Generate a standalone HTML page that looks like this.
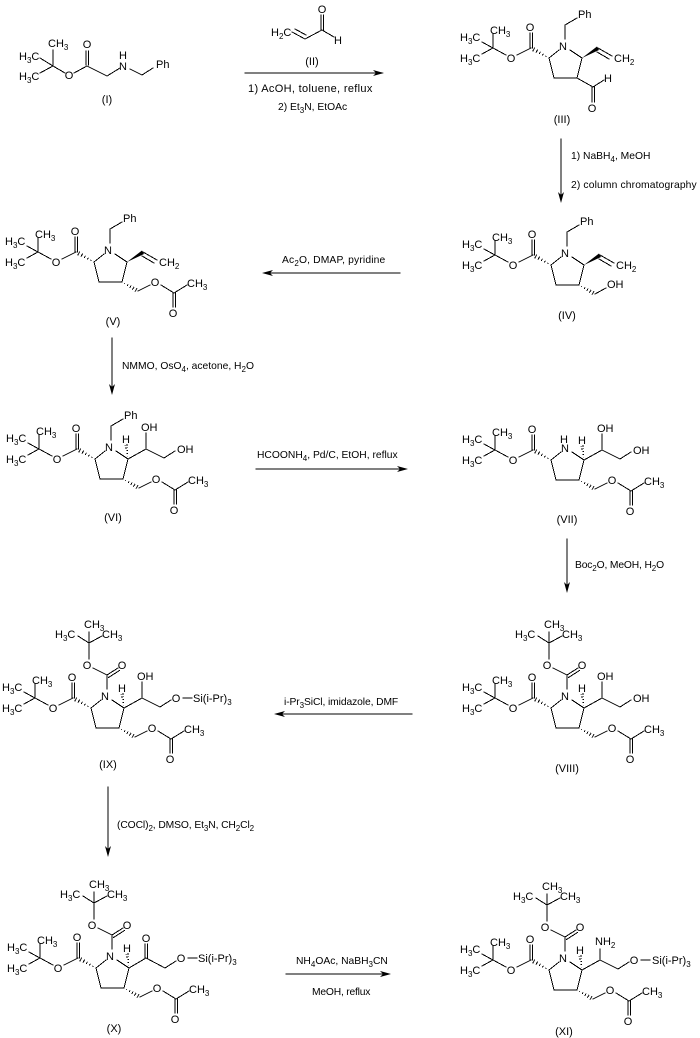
<!DOCTYPE html>
<html><head><meta charset="utf-8"><style>
html,body{margin:0;padding:0;background:#fff}
svg{display:block}
text{font-family:"Liberation Sans",sans-serif;font-size:11px;fill:#000}
text.r{font-size:10.3px}
.m{text-anchor:middle}
.s{font-size:8px}
.l{stroke:#000;stroke-width:1;fill:none;stroke-linecap:square;shape-rendering:crispEdges}
.hs{stroke:#000;stroke-width:1;fill:none;shape-rendering:crispEdges}
</style></head><body>
<svg width="700" height="1038" viewBox="0 0 700 1038" xmlns="http://www.w3.org/2000/svg">
<defs>
<path id="h" class="hs" d="M3.500-.5V.5M7-1V1M10.500-1.400V1.400M14-1.800V1.800M17.500-2.200V2.200"/>
<path id="ah" fill="#000" d="M0 0L-11 3L-8 0L-11-3Z"/>
<g id="core">
<path class="l" d="M27 246L38 252L27 258M38 252V238M38 252L51 259M62 259L76 252M75 252V237M77.500 252V237M94 262L104 254M115 254L127 262L122 282H99L94 262"/>
<use href="#h" transform="translate(94 262) rotate(209)"/>
</g>
<path id="nl" class="l" d="M110 243V229"/>
<path id="bn" class="l" d="M110 229L122 222"/>
<g id="vinyl">
<polygon points="127,262 142,250.500 144,254"/>
<path class="l" d="M143 252L157 260M142 256L154 263"/>
</g>
<g id="oac">
<use href="#h" transform="translate(122 282) rotate(29) scale(.92)"/>
<path class="l" d="M138 291L150 285M161 285L174 293L187 285M173 293V307M175.500 293V307"/>
</g>
<g id="boc">
<path class="l" d="M110 229L121 222M111.500 231.500L122.500 224.500M110 229L96 222M92 213V197M81 190L92 197L105 190M92 197V186"/>
</g>
<use id="hh" href="#h" transform="translate(127 262) rotate(-97) scale(.8)"/>
<path id="ch" class="l" d="M127 262L145 252L163 261L174 254"/>
<path id="ohl" class="l" d="M145 252V236"/>
<path id="si" class="l" d="M186 252H195"/>
</defs>

<!-- I -->
<g>
<path class="l" d="M40 58L53 66L40 73M53 66V50M53 66L65 73M74 73L87 66M86 65V51M88.500 65V51M87 66L107 76L120 68M130 69L142 75L153 68"/>
<text x="19" y="60">H<tspan class="s" dy="3">3</tspan><tspan dy="-3">C</tspan></text>
<text x="19" y="80">H<tspan class="s" dy="3">3</tspan><tspan dy="-3">C</tspan></text>
<text x="48" y="47">CH<tspan class="s" dy="3">3</tspan></text>
<text x="69" y="79" class="m">O</text><text x="87" y="48" class="m">O</text>
<text x="123" y="70" class="m">N</text><text x="123" y="59" class="m">H</text>
<text x="156" y="68">Ph</text>
<text x="107" y="103" class="m">(I)</text>
</g>

<!-- II -->
<g>
<path class="l" d="M292 32L305 39L322 30L334 37M295 29L306 35M321 30V15M323.500 30V15"/>
<text x="271" y="36">H<tspan class="s" dy="3">2</tspan><tspan dy="-3">C</tspan></text>
<text x="322" y="13" class="m">O</text><text x="338" y="44" class="m">H</text>
<text x="312" y="65" class="m">(II)</text>
</g>

<!-- arrow 1 -->
<path class="l" d="M245 73H380"/><use href="#ah" transform="translate(384 73)"/>
<text x="248" y="92" style="letter-spacing:.33px">1) AcOH, toluene, reflux</text>
<text x="278" y="110" class="r">2) Et<tspan class="s" dy="3">3</tspan><tspan dy="-3">N, EtOAc</tspan></text>

<!-- III -->
<g transform="translate(455 -204)">
<use href="#core"/><use href="#nl"/><use href="#bn"/><use href="#vinyl"/>
<path class="l" d="M122 282L138 291L149 284M137 291V306M139.500 291V306"/>
<text x="5" y="245">H<tspan class="s" dy="3">3</tspan><tspan dy="-3">C</tspan></text>
<text x="5" y="266">H<tspan class="s" dy="3">3</tspan><tspan dy="-3">C</tspan></text>
<text x="35" y="238">CH<tspan class="s" dy="3">3</tspan></text>
<text x="75" y="235" class="m">O</text><text x="56" y="266" class="m">O</text><text x="108" y="254" class="m">N</text>
<text x="123" y="222">Ph</text><text x="159" y="266">CH<tspan class="s" dy="3">2</tspan></text>
<text x="153" y="286" class="m">H</text><text x="137" y="316" class="m">O</text>
<text x="107" y="327" class="m">(III)</text>
</g>

<!-- arrow III-IV -->
<path class="l" d="M561 139V199"/><use href="#ah" transform="translate(561 203) rotate(90)"/>
<text x="571" y="159" class="r">1) NaBH<tspan class="s" dy="3">4</tspan><tspan dy="-3">, MeOH</tspan></text>
<text x="571" y="188" class="r" style="letter-spacing:.14px">2) column chromatography</text>

<!-- IV -->
<g transform="translate(457 3)">
<use href="#core"/><use href="#nl"/><use href="#bn"/><use href="#vinyl"/>
<use href="#h" transform="translate(122 282) rotate(29) scale(.92)"/>
<path class="l" d="M138 291L149 285"/>
<text x="5" y="245">H<tspan class="s" dy="3">3</tspan><tspan dy="-3">C</tspan></text>
<text x="5" y="266">H<tspan class="s" dy="3">3</tspan><tspan dy="-3">C</tspan></text>
<text x="35" y="238">CH<tspan class="s" dy="3">3</tspan></text>
<text x="75" y="235" class="m">O</text><text x="56" y="266" class="m">O</text><text x="108" y="254" class="m">N</text>
<text x="123" y="222">Ph</text><text x="159" y="266">CH<tspan class="s" dy="3">2</tspan></text>
<text x="150" y="285">OH</text>
<text x="110" y="316" class="m">(IV)</text>
</g>

<!-- arrow IV-V -->
<path class="l" d="M400 273H266"/><use href="#ah" transform="translate(262 273) rotate(180)"/>
<text x="282" y="263" class="r" style="letter-spacing:.15px">Ac<tspan class="s" dy="3">2</tspan><tspan dy="-3">O, DMAP, pyridine</tspan></text>

<!-- V -->
<g>
<use href="#core"/><use href="#nl"/><use href="#bn"/><use href="#vinyl"/><use href="#oac"/>
<text x="5" y="245">H<tspan class="s" dy="3">3</tspan><tspan dy="-3">C</tspan></text>
<text x="5" y="266">H<tspan class="s" dy="3">3</tspan><tspan dy="-3">C</tspan></text>
<text x="35" y="238">CH<tspan class="s" dy="3">3</tspan></text>
<text x="75" y="235" class="m">O</text><text x="56" y="266" class="m">O</text><text x="108" y="254" class="m">N</text>
<text x="123" y="222">Ph</text><text x="159" y="266">CH<tspan class="s" dy="3">2</tspan></text>
<text x="155" y="286" class="m">O</text><text x="187" y="287">CH<tspan class="s" dy="3">3</tspan></text><text x="173" y="317" class="m">O</text>
<text x="113" y="325" class="m">(V)</text>
</g>

<!-- arrow V-VI -->
<path class="l" d="M112 338V391"/><use href="#ah" transform="translate(112 395) rotate(90)"/>
<text x="122" y="369" class="r">NMMO, OsO<tspan class="s" dy="3">4</tspan><tspan dy="-3">, acetone, H</tspan><tspan class="s" dy="3">2</tspan><tspan dy="-3">O</tspan></text>

<!-- VI -->
<g transform="translate(1 197)">
<use href="#core"/><use href="#nl"/><use href="#bn"/><use href="#hh"/><use href="#ch"/><use href="#ohl"/><use href="#oac"/>
<text x="5" y="245">H<tspan class="s" dy="3">3</tspan><tspan dy="-3">C</tspan></text>
<text x="5" y="266">H<tspan class="s" dy="3">3</tspan><tspan dy="-3">C</tspan></text>
<text x="35" y="238">CH<tspan class="s" dy="3">3</tspan></text>
<text x="75" y="235" class="m">O</text><text x="56" y="266" class="m">O</text><text x="108" y="254" class="m">N</text>
<text x="123" y="222">Ph</text>
<text x="125" y="246" class="m">H</text><text x="140" y="234">OH</text><text x="176" y="256">OH</text>
<text x="155" y="286" class="m">O</text><text x="187" y="287">CH<tspan class="s" dy="3">3</tspan></text><text x="173" y="317" class="m">O</text>
<text x="112" y="324" class="m">(VI)</text>
</g>

<!-- arrow VI-VII -->
<path class="l" d="M256 469H404"/><use href="#ah" transform="translate(408 469)"/>
<text x="257" y="458" class="r">HCOONH<tspan class="s" dy="3">4</tspan><tspan dy="-3">, Pd/C, EtOH, reflux</tspan></text>

<!-- VII -->
<g transform="translate(457 198)">
<use href="#core"/><use href="#hh"/><use href="#ch"/><use href="#ohl"/><use href="#oac"/>
<text x="5" y="245">H<tspan class="s" dy="3">3</tspan><tspan dy="-3">C</tspan></text>
<text x="5" y="266">H<tspan class="s" dy="3">3</tspan><tspan dy="-3">C</tspan></text>
<text x="35" y="238">CH<tspan class="s" dy="3">3</tspan></text>
<text x="75" y="235" class="m">O</text><text x="56" y="266" class="m">O</text><text x="108" y="254" class="m">N</text>
<text x="107" y="245" class="m">H</text>
<text x="125" y="246" class="m">H</text><text x="140" y="234">OH</text><text x="176" y="256">OH</text>
<text x="155" y="286" class="m">O</text><text x="187" y="287">CH<tspan class="s" dy="3">3</tspan></text><text x="173" y="317" class="m">O</text>
<text x="110" y="325" class="m">(VII)</text>
</g>

<!-- arrow VII-VIII -->
<path class="l" d="M567 539V589"/><use href="#ah" transform="translate(567 593) rotate(90)"/>
<text x="575" y="568" class="r" style="letter-spacing:-.15px">Boc<tspan class="s" dy="3">2</tspan><tspan dy="-3">O, MeOH, H</tspan><tspan class="s" dy="3">2</tspan><tspan dy="-3">O</tspan></text>

<!-- VIII -->
<g transform="translate(457 446)">
<use href="#core"/><use href="#nl"/><use href="#boc"/><use href="#hh"/><use href="#ch"/><use href="#ohl"/><use href="#oac"/>
<text x="5" y="245">H<tspan class="s" dy="3">3</tspan><tspan dy="-3">C</tspan></text>
<text x="5" y="266">H<tspan class="s" dy="3">3</tspan><tspan dy="-3">C</tspan></text>
<text x="35" y="238">CH<tspan class="s" dy="3">3</tspan></text>
<text x="75" y="235" class="m">O</text><text x="56" y="266" class="m">O</text><text x="108" y="254" class="m">N</text>
<text x="90" y="223" class="m">O</text><text x="125" y="223" class="m">O</text>
<text x="58" y="192">H<tspan class="s" dy="3">3</tspan><tspan dy="-3">C</tspan></text>
<text x="105" y="192">CH<tspan class="s" dy="3">3</tspan></text>
<text x="87" y="182">CH<tspan class="s" dy="3">3</tspan></text>
<text x="125" y="246" class="m">H</text><text x="140" y="234">OH</text><text x="176" y="256">OH</text>
<text x="155" y="286" class="m">O</text><text x="187" y="287">CH<tspan class="s" dy="3">3</tspan></text><text x="173" y="317" class="m">O</text>
<text x="110" y="326" class="m">(VIII)</text>
</g>

<!-- arrow VIII-IX -->
<path class="l" d="M412 714H278"/><use href="#ah" transform="translate(274 714) rotate(180)"/>
<text x="284" y="705" class="r" style="letter-spacing:-.1px">i-Pr<tspan class="s" dy="3">3</tspan><tspan dy="-3">SiCl, imidazole, DMF</tspan></text>

<!-- IX -->
<g transform="translate(-3 446)">
<use href="#core"/><use href="#nl"/><use href="#boc"/><use href="#hh"/><use href="#ch"/><use href="#ohl"/><use href="#si"/><use href="#oac"/>
<text x="5" y="245">H<tspan class="s" dy="3">3</tspan><tspan dy="-3">C</tspan></text>
<text x="5" y="266">H<tspan class="s" dy="3">3</tspan><tspan dy="-3">C</tspan></text>
<text x="35" y="238">CH<tspan class="s" dy="3">3</tspan></text>
<text x="75" y="235" class="m">O</text><text x="56" y="266" class="m">O</text><text x="108" y="254" class="m">N</text>
<text x="90" y="223" class="m">O</text><text x="125" y="223" class="m">O</text>
<text x="58" y="192">H<tspan class="s" dy="3">3</tspan><tspan dy="-3">C</tspan></text>
<text x="105" y="192">CH<tspan class="s" dy="3">3</tspan></text>
<text x="87" y="182">CH<tspan class="s" dy="3">3</tspan></text>
<text x="125" y="246" class="m">H</text><text x="140" y="234">OH</text>
<text x="179" y="256" class="m">O</text><text x="196" y="256">Si(i-Pr)<tspan class="s" dy="3">3</tspan></text>
<text x="155" y="286" class="m">O</text><text x="187" y="287">CH<tspan class="s" dy="3">3</tspan></text><text x="173" y="317" class="m">O</text>
<text x="111" y="322" class="m">(IX)</text>
</g>

<!-- arrow IX-X -->
<path class="l" d="M108 787V853"/><use href="#ah" transform="translate(108 857) rotate(90)"/>
<text x="117" y="828" class="r" style="letter-spacing:-.1px">(COCl)<tspan class="s" dy="3">2</tspan><tspan dy="-3">, DMSO, Et</tspan><tspan class="s" dy="3">3</tspan><tspan dy="-3">N, CH</tspan><tspan class="s" dy="3">2</tspan><tspan dy="-3">Cl</tspan><tspan class="s" dy="3">2</tspan></text>

<!-- X -->
<g transform="translate(2 706)">
<use href="#core"/><use href="#nl"/><use href="#boc"/><use href="#hh"/><use href="#si"/><use href="#oac"/>
<path class="l" d="M127 262L144 252L163 262L174 255M143 252V238M145.500 252V238"/>
<text x="5" y="245">H<tspan class="s" dy="3">3</tspan><tspan dy="-3">C</tspan></text>
<text x="5" y="266">H<tspan class="s" dy="3">3</tspan><tspan dy="-3">C</tspan></text>
<text x="35" y="238">CH<tspan class="s" dy="3">3</tspan></text>
<text x="75" y="235" class="m">O</text><text x="56" y="266" class="m">O</text><text x="108" y="254" class="m">N</text>
<text x="90" y="223" class="m">O</text><text x="125" y="223" class="m">O</text>
<text x="58" y="192">H<tspan class="s" dy="3">3</tspan><tspan dy="-3">C</tspan></text>
<text x="105" y="192">CH<tspan class="s" dy="3">3</tspan></text>
<text x="87" y="182">CH<tspan class="s" dy="3">3</tspan></text>
<text x="125" y="246" class="m">H</text><text x="144" y="236" class="m">O</text>
<text x="179" y="256" class="m">O</text><text x="196" y="256">Si(i-Pr)<tspan class="s" dy="3">3</tspan></text>
<text x="155" y="286" class="m">O</text><text x="187" y="287">CH<tspan class="s" dy="3">3</tspan></text><text x="173" y="317" class="m">O</text>
<text x="112" y="326" class="m">(X)</text>
</g>

<!-- arrow X-XI -->
<path class="l" d="M286 974H387"/><use href="#ah" transform="translate(391 974)"/>
<text x="296" y="964" class="r">NH<tspan class="s" dy="3">4</tspan><tspan dy="-3">OAc, NaBH</tspan><tspan class="s" dy="3">3</tspan><tspan dy="-3">CN</tspan></text>
<text x="312" y="995" class="r" style="letter-spacing:-.2px">MeOH, reflux</text>

<!-- XI -->
<g transform="translate(455 708)">
<use href="#core"/><use href="#nl"/><use href="#boc"/><use href="#hh"/><use href="#ch"/><use href="#si"/><use href="#oac"/>
<path class="l" d="M145 252V241"/>
<text x="5" y="245">H<tspan class="s" dy="3">3</tspan><tspan dy="-3">C</tspan></text>
<text x="5" y="266">H<tspan class="s" dy="3">3</tspan><tspan dy="-3">C</tspan></text>
<text x="35" y="238">CH<tspan class="s" dy="3">3</tspan></text>
<text x="75" y="235" class="m">O</text><text x="56" y="266" class="m">O</text><text x="108" y="254" class="m">N</text>
<text x="90" y="223" class="m">O</text><text x="125" y="223" class="m">O</text>
<text x="58" y="192">H<tspan class="s" dy="3">3</tspan><tspan dy="-3">C</tspan></text>
<text x="105" y="192">CH<tspan class="s" dy="3">3</tspan></text>
<text x="87" y="182">CH<tspan class="s" dy="3">3</tspan></text>
<text x="125" y="246" class="m">H</text><text x="140" y="237">NH<tspan class="s" dy="3">2</tspan></text>
<text x="179" y="256" class="m">O</text><text x="197" y="256">Si(i-Pr)<tspan class="s" dy="3">3</tspan></text>
<text x="155" y="286" class="m">O</text><text x="187" y="287">CH<tspan class="s" dy="3">3</tspan></text><text x="173" y="317" class="m">O</text>
<text x="109" y="327" class="m">(XI)</text>
</g>
</svg>
</body></html>
